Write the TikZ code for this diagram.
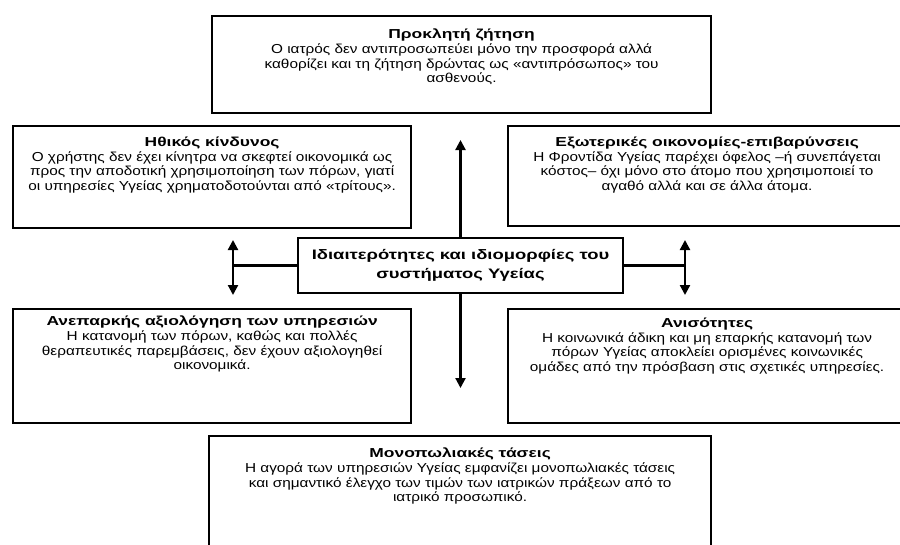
\documentclass[tikz,border=0pt]{standalone}
\usepackage{fontspec}
\setmainfont{Liberation Sans}[FakeStretch=1.18, BoldFeatures={FakeStretch=1.34}]
\usetikzlibrary{arrows.meta, positioning}

\begin{document}
\begin{tikzpicture}[
        x=1pt, y=-1pt,
        panel/.style={draw, line width=2.2pt, inner sep=0pt, anchor=north west},
        blurb/.style={align=center, inner sep=0pt, font=\fontsize{13}{14.6}\selectfont},
        hub/.style={draw, line width=2.2pt, align=center, minimum width=325pt, minimum height=55pt, font=\fontsize{13.75}{19}\selectfont\bfseries},
        arrow/.style={-{Triangle[length=10pt,width=10pt]}, line width=2.2pt},
        twoway/.style={{Triangle[length=10pt,width=10pt]}-{Triangle[length=10pt,width=10pt]}, line width=2.2pt}
    ]
        \useasboundingbox (0,0) rectangle (900,544);
        \clip (0,0) rectangle (900,544);

        % boxes
        \node[panel, minimum width=499pt, minimum height=97pt] (demand) at (211,15) {};
        \node[panel, minimum width=398pt, minimum height=102pt] (hazard) at (12,125) {};
        \node[panel, minimum width=398pt, minimum height=100pt] (extern) at (507,125) {};
        \node[panel, minimum width=398pt, minimum height=114pt] (assess) at (12,308) {};
        \node[panel, minimum width=398pt, minimum height=114pt] (inequal) at (507,308) {};
        \node[panel, minimum width=502pt, minimum height=130pt] (monopoly) at (208,435) {};
        \node[hub] (core) at (460.5,265.5) {Ιδιαιτερότητες και ιδιομορφίες του\\ συστήματος Υγείας};

        % texts
        \node[blurb, below=14pt of demand.north] (demandtxt) {\textbf{Προκλητή ζήτηση}\\
            Ο ιατρός δεν αντιπροσωπεύει μόνο την προσφορά αλλά\\
            καθορίζει και τη ζήτηση δρώντας ως «αντιπρόσωπος» του\\
            ασθενούς.};
        \node[blurb, below=12pt of hazard.north] (hazardtxt) {\textbf{Ηθικός κίνδυνος}\\
            Ο χρήστης δεν έχει κίνητρα να σκεφτεί οικονομικά ως\\
            προς την αποδοτική χρησιμοποίηση των πόρων, γιατί\\
            οι υπηρεσίες Υγείας χρηματοδοτούνται από «τρίτους».};
        \node[blurb, below=12pt of extern.north] (externtxt) {\textbf{Εξωτερικές οικονομίες-επιβαρύνσεις}\\
            Η Φροντίδα Υγείας παρέχει όφελος –ή συνεπάγεται\\
            κόστος– όχι μόνο στο άτομο που χρησιμοποιεί το\\
            αγαθό αλλά και σε άλλα άτομα.};
        \node[blurb, below=8pt of assess.north] (assesstxt) {\textbf{Ανεπαρκής αξιολόγηση των υπηρεσιών}\\
            Η κατανομή των πόρων, καθώς και πολλές\\
            θεραπευτικές παρεμβάσεις, δεν έχουν αξιολογηθεί\\
            οικονομικά.};
        \node[blurb, below=10pt of inequal.north] (inequaltxt) {\textbf{Ανισότητες}\\
            Η κοινωνικά άδικη και μη επαρκής κατανομή των\\
            πόρων Υγείας αποκλείει ορισμένες κοινωνικές\\
            ομάδες από την πρόσβαση στις σχετικές υπηρεσίες.};
        \node[blurb, below=13pt of monopoly.north] (monopolytxt) {\textbf{Μονοπωλιακές τάσεις}\\
            Η αγορά των υπηρεσιών Υγείας εμφανίζει μονοπωλιακές τάσεις\\
            και σημαντικό έλεγχο των τιμών των ιατρικών πράξεων από το\\
            ιατρικό προσωπικό.};

        % arrow ends
        \coordinate (uptip) at (460.5,140);
        \coordinate (downtip) at (460.5,388);
        \coordinate (lknot) at (233,265.5);
        \coordinate (ltop) at (233,240);
        \coordinate (lbot) at (233,295);
        \coordinate (rknot) at (685,265.5);
        \coordinate (rtop) at (685,240);
        \coordinate (rbot) at (685,295);

        \draw[arrow] (core.north) -- (uptip);
        \draw[arrow] (core.south) -- (downtip);
        \draw[line width=2.2pt] (core.west) -- (lknot);
        \draw[line width=2.2pt] (core.east) -- (rknot);
        \draw[twoway] (lbot) -- (ltop);
        \draw[twoway] (rbot) -- (rtop);
    \end{tikzpicture}
\end{document}
